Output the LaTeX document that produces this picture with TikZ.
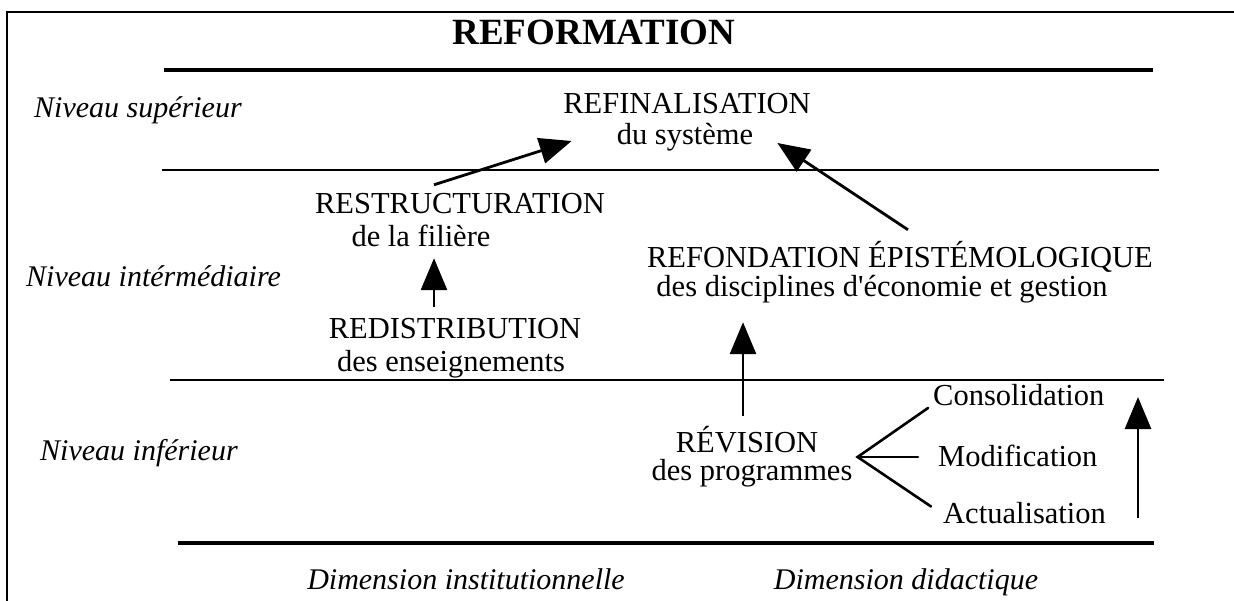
\documentclass[tikz,border=0pt]{standalone}
\usepackage{fontspec}
\setmainfont{Liberation Serif}
% same face without the TeX quote mapping, for a straight apostrophe
\newfontfamily\plainserif{Liberation Serif}
\usetikzlibrary{arrows.meta,calc}
\begin{document}
\begin{tikzpicture}[x=1pt,y=-1pt,
  txt/.style={inner sep=0pt, anchor=base, text height=20pt, text depth=7pt,
    font=\fontsize{30.5}{32}\selectfont},
  lvl/.style={inner sep=0pt, anchor=base west, font=\fontsize{30}{32}\selectfont\itshape},
  dim/.style={inner sep=0pt, anchor=base, font=\fontsize{30}{32}\selectfont\itshape},
  thinrule/.style={line width=1.3pt},
  thickrule/.style={line width=3.2pt},
  bigarrow/.style={line width=2.8pt, -{Triangle[length=32pt,width=26pt]}},
  fork/.style={line width=2.6pt, line cap=round}]
\useasboundingbox (0,0) rectangle (1234,601);
% frame
\draw[line width=2pt] (7,601) -- (7,12) -- (1234,12);
% horizontal rules separating the levels
\draw[thickrule] (164,70) -- (1153,70);
\draw[thinrule] (162,170) -- (1159,170);
\draw[thinrule] (170,380) -- (1164,380);
\draw[thickrule] (178,543) -- (1154,543);
% title
\node[inner sep=0pt, anchor=base, font=\fontsize{37}{40}\selectfont\bfseries] (title) at (594,45) {REFORMATION};
% level labels
\node[lvl] (sup) at (34,118) {Niveau supérieur};
\node[lvl] (inter) at (26,287) {Niveau intérmédiaire};
\node[lvl] (inf) at (40,460) {Niveau inférieur};
% dimension labels
\node[dim] (dinst) at (466,589) {Dimension institutionnelle};
\node[dim] (ddid) at (906,589) {Dimension didactique};
% upper level
\node[txt] (refin) at (687,114) {REFINALISATION};
\node[txt] (sys) at (685,145) {du système};
% intermediate level
\node[txt] (restr) at (460,214) {RESTRUCTURATION};
\node[txt] (fil) at (421,247) {de la filière};
\node[txt] (redis) at (455,339) {REDISTRIBUTION};
\node[txt] (ens) at (451,372) {des enseignements};
\node[txt] (refond) at (900,268) {REFONDATION ÉPISTÉMOLOGIQUE};
\node[txt] (discip) at (882,297) {des disciplines d{\plainserif '}économie et gestion};
% lower level
\node[txt] (revis) at (747,452) {RÉVISION};
\node[txt] (prog) at (752,480) {des programmes};
\node[txt, anchor=base west] (conso) at (933,406) {Consolidation};
\node[txt, anchor=base west] (modif) at (938,466) {Modification};
\node[txt, anchor=base west] (actu) at (943,523) {Actualisation};
% free-standing upward arrow on the right
\coordinate (upfoot) at (1138,518);
\coordinate (uptip) at (1138,397);
% arrows between the levels
\draw[bigarrow] ($(restr.north)+(-26,-9)$) -- ($(sys.west)+(-45,2.5)$);
\draw[bigarrow] ($(refond.north)+(8,-18)$) -- ($(sys.east)+(24,4.5)$);
\draw[bigarrow] ($(redis.north)+(-21,-12)$) -- ($(redis.north |- fil.south)+(-21,4)$);
\draw[bigarrow] ($(revis.north)+(-4,-16)$) -- ($(revis.north |- discip.south)+(-4,18)$);
\draw[bigarrow] (upfoot) -- (uptip);
% branches from the revision
\coordinate (fk) at ($(prog.east)+(5,-16.5)$);
\draw[fork] ($(conso.west)+(-5,8.5)$) -- (fk) -- ($(actu.west)+(-12,-10)$);
\draw[fork] (fk) -- ($(modif.west)+(-20,-2.5)$);
\end{tikzpicture}
\end{document}
